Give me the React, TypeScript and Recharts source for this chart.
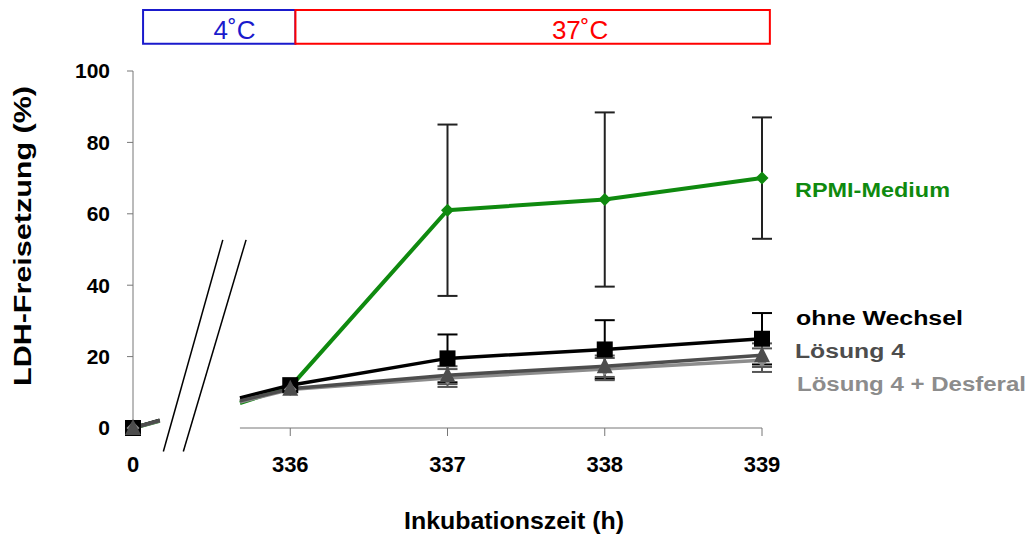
import { ErrorBar, Line, LineChart, ReferenceArea, ReferenceLine, XAxis, YAxis } from "recharts";

// x categories; the axis is broken between 0 and 336
const CATEGORIES = ["0", "336", "337", "338", "339"];

// LDH release (%) per category
const RPMI = [0, 11.5, 61, 64, 70];
const RPMI_ERR = [0, 0, 24, 24.4, 17];
const OHNE = [0, 12, 19.5, 22, 25];
const OHNE_ERR = [0, 0, 6.7, 8.2, 7.2];
const LOES4 = [0, 11, 14.8, 17.3, 20.4];
const LOES4_ERR = [0, 0, 2.5, 3, 3.3];
const DESF = [0, 10.8, 14, 16.5, 19];
const DESF_ERR = [0, 0, 2.5, 3.1, 3.3];

// short line pieces either side of the axis break (x position, then value per series)
const STUB_POS = [0.17, 0.68];
const RPMI_STUB = [2, 7];
const OHNE_STUB = [2.2, 8.4];
const LOES4_STUB = [2.1, 7.6];
const DESF_STUB = [2, 7.3];

const Y_TICKS = [0, 20, 40, 60, 80, 100];

const GREEN = "#0f8a0f";
const DARK = "#4d4d4d";
const GRAY = "#8c8c8c";
const AXIS = "#777";

const X_TICK_SIZE = 8;
const X_TICK_MARGIN = 19;

const row = (pos: number, i: number | null, stub: number | null) => {
  const pick = (main: number[], stubs: number[]) =>
    i != null ? main[i] : stub != null ? stubs[stub] : undefined;
  return {
    pos,
    rpmi: pick(RPMI, RPMI_STUB),
    ohne: pick(OHNE, OHNE_STUB),
    loes4: pick(LOES4, LOES4_STUB),
    desf: pick(DESF, DESF_STUB),
    rpmiErr: i != null && RPMI_ERR[i] ? RPMI_ERR[i] : undefined,
    ohneErr: i != null && OHNE_ERR[i] ? OHNE_ERR[i] : undefined,
    loes4Err: i != null && LOES4_ERR[i] ? LOES4_ERR[i] : undefined,
    desfErr: i != null && DESF_ERR[i] ? DESF_ERR[i] : undefined,
  };
};

const data = [
  row(0, 0, null),
  row(STUB_POS[0], null, 0),
  row((STUB_POS[0] + STUB_POS[1]) / 2, null, null), // gap
  row(STUB_POS[1], null, 1),
  ...CATEGORIES.slice(1).map((_, k) => row(k + 1, k + 1, null)),
];

type Shape = "square" | "triangle" | "diamond";

const makeDot = (shape: Shape, size: number, fill: string) => (props: any) => {
  const { cx, cy, payload, index } = props;
  if (!Number.isInteger(payload.pos) || cy == null) return <g key={index} />;
  const h = size / 2;
  if (shape === "square")
    return <rect key={index} x={cx - h} y={cy - h} width={size} height={size} fill={fill} />;
  if (shape === "triangle")
    return (
      <polygon key={index} points={`${cx},${cy - h - 1} ${cx + h},${cy + h - 1} ${cx - h},${cy + h - 1}`} fill={fill} />
    );
  return <polygon key={index} points={`${cx},${cy - h} ${cx + h},${cy} ${cx},${cy + h} ${cx - h},${cy}`} fill={fill} />;
};

function XTick(props: any) {
  const { x, y, payload } = props;
  const axisY = y - X_TICK_SIZE - X_TICK_MARGIN;
  return (
    <g>
      {payload.value > 0 && <line x1={x} x2={x} y1={axisY} y2={axisY + X_TICK_SIZE} stroke={AXIS} />}
      <text x={x} y={y} dy={17} textAnchor="middle" fontSize={22} fontWeight="bold" fill="#000">
        {CATEGORIES[payload.value]}
      </text>
    </g>
  );
}

const headerLabel = (text: string, color: string) => (p: any) => {
  const vb = p.viewBox;
  return (
    <text x={vb.x + vb.width * 0.6} y={vb.y + 29} textAnchor="middle" fontSize={26} fill={color}>
      {text}
    </text>
  );
};

const SERIES_LABELS = [
  { text: "RPMI-Medium", color: GREEN, x: 795, y: 197, len: 155 },
  { text: "ohne Wechsel", color: "#000", x: 796, y: 325, len: 167 },
  { text: "Lösung 4", color: DARK, x: 795, y: 358, len: 110 },
  { text: "Lösung 4 + Desferal", color: GRAY, x: 797, y: 391, len: 229 },
];

export default function App() {
  return (
    <div
      style={{
        position: "absolute",
        left: 0,
        top: 0,
        width: 1035,
        height: 538,
        background: "#fff",
        fontFamily: "'Liberation Sans', Arial, sans-serif",
      }}
    >
      <LineChart width={1035} height={538} data={data} margin={{ top: 71, right: 273, bottom: 70, left: 53 }}>
        <XAxis
          type="number"
          dataKey="pos"
          domain={[0, 4]}
          ticks={[0, 1, 2, 3, 4]}
          axisLine={false}
          tickLine={false}
          tickSize={X_TICK_SIZE}
          tickMargin={X_TICK_MARGIN}
          tick={<XTick />}
          height={40}
        />
        <YAxis
          type="number"
          domain={[0, 100]}
          ticks={Y_TICKS}
          width={80}
          axisLine={{ stroke: AXIS }}
          tickLine={{ stroke: AXIS }}
          tickSize={6}
          tickMargin={17}
          tick={{ fill: "#000", fontSize: 21, fontWeight: "bold" }}
        />

        {/* x axis only right of the break */}
        <ReferenceLine segment={[{ x: STUB_POS[1], y: 0 }, { x: 4, y: 0 }]} stroke={AXIS} ifOverflow="visible" />
        {/* break marks */}
        <ReferenceLine segment={[{ x: 0.193, y: -6.6 }, { x: 0.571, y: 52.7 }]} stroke="#000" strokeWidth={1.5} ifOverflow="visible" />
        <ReferenceLine segment={[{ x: 0.32, y: -6.6 }, { x: 0.719, y: 52.7 }]} stroke="#000" strokeWidth={1.5} ifOverflow="visible" />

        {/* temperature phases */}
        <ReferenceArea x1={0.064} x2={1.033} y1={107.6} y2={117.1} fill="#fff" fillOpacity={1} stroke="#1a1acc" strokeWidth={2} ifOverflow="visible" label={headerLabel("4˚C", "#1a1acc")} />
        <ReferenceArea x1={1.033} x2={4.05} y1={107.6} y2={117.1} fill="#fff" fillOpacity={1} stroke="#ff0000" strokeWidth={2} ifOverflow="visible" label={headerLabel("37˚C", "#ff0000")} />

        <Line dataKey="rpmi" stroke={GREEN} strokeWidth={4} dot={makeDot("diamond", 13, GREEN)} activeDot={false} isAnimationActive={false}>
          <ErrorBar dataKey="rpmiErr" stroke="#222" strokeWidth={2} width={10} direction="y" />
        </Line>
        <Line dataKey="ohne" stroke="#000" strokeWidth={3.5} dot={makeDot("square", 16, "#000")} activeDot={false} isAnimationActive={false}>
          <ErrorBar dataKey="ohneErr" stroke="#000" strokeWidth={2} width={10} direction="y" />
        </Line>
        <Line dataKey="desf" stroke={GRAY} strokeWidth={3.5} dot={makeDot("diamond", 13, GRAY)} activeDot={false} isAnimationActive={false}>
          <ErrorBar dataKey="desfErr" stroke="#555" strokeWidth={2} width={10} direction="y" />
        </Line>
        <Line dataKey="loes4" stroke={DARK} strokeWidth={3.5} dot={makeDot("triangle", 16, DARK)} activeDot={false} isAnimationActive={false}>
          <ErrorBar dataKey="loes4Err" stroke="#555" strokeWidth={2} width={10} direction="y" />
        </Line>
      </LineChart>

      <svg width={1035} height={538} style={{ position: "absolute", left: 0, top: 0, pointerEvents: "none" }}>
        <text
          transform="translate(31,236) rotate(-90)"
          textAnchor="middle"
          fontSize={24}
          fontWeight="bold"
          textLength={300}
          lengthAdjust="spacingAndGlyphs"
        >
          LDH-Freisetzung  (%)
        </text>
        <text x={514} y={529} textAnchor="middle" fontSize={24} fontWeight="bold" textLength={220} lengthAdjust="spacingAndGlyphs">
          Inkubationszeit (h)
        </text>
        {SERIES_LABELS.map((l) => (
          <text
            key={l.text}
            x={l.x}
            y={l.y}
            fill={l.color}
            fontSize={20}
            fontWeight="bold"
            textLength={l.len}
            lengthAdjust="spacingAndGlyphs"
          >
            {l.text}
          </text>
        ))}
      </svg>
    </div>
  );
}
